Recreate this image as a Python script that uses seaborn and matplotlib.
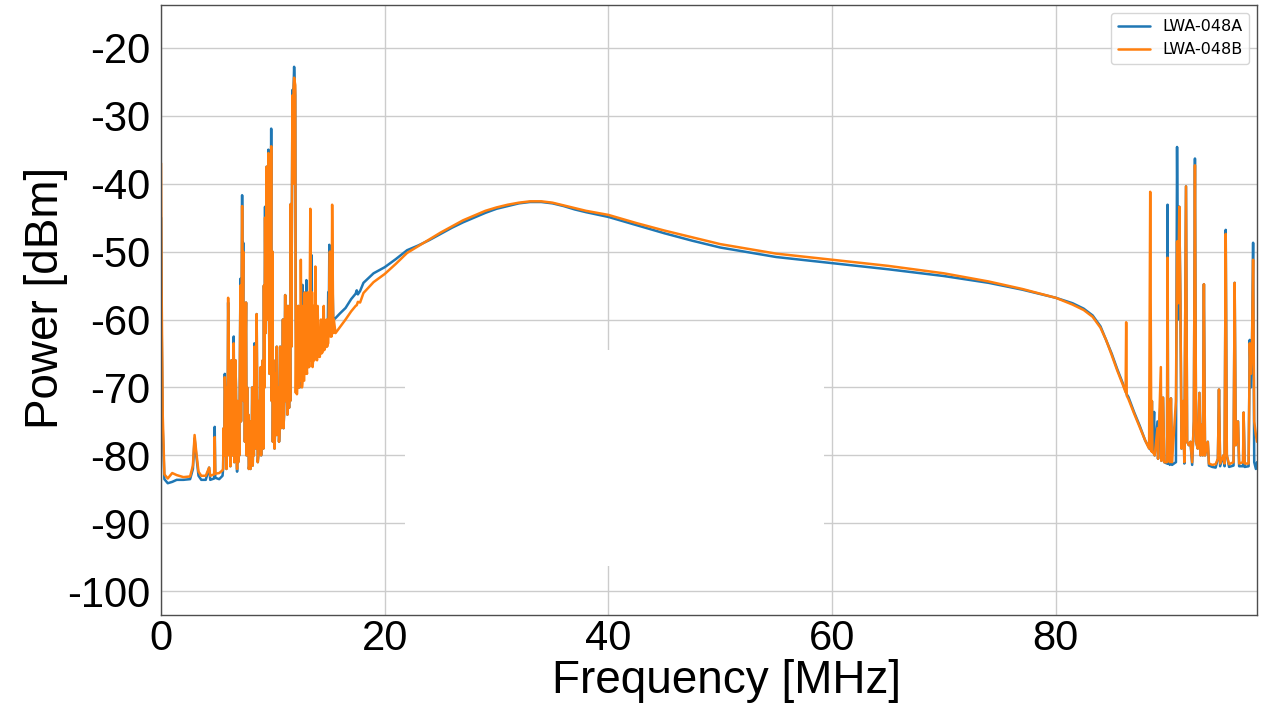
import numpy as np
import pandas as pd
import matplotlib
matplotlib.use("Agg")
import matplotlib.pyplot as plt
from matplotlib.patches import Rectangle
import seaborn as sns

# low band (0-21 MHz): RFI spikes on top of the analog filter skirt
low_freq = [0.00, 0.05, 0.15, 0.30, 0.60, 1.00, 1.40, 2.00, 2.60, 2.85,
            3.00, 3.15, 3.35, 3.60, 4.00, 4.30, 4.40, 4.75, 4.80, 4.85,
            5.20, 5.50, 5.55, 5.60, 5.65, 5.70, 5.75, 5.80, 5.85, 5.90,
            5.95, 6.00, 6.05, 6.10, 6.15, 6.20, 6.25, 6.30, 6.35, 6.40,
            6.45, 6.50, 6.55, 6.60, 6.65, 6.70, 6.75, 6.80, 6.85, 6.90,
            6.95, 7.00, 7.05, 7.10, 7.15, 7.20, 7.25, 7.30, 7.35, 7.40,
            7.45, 7.50, 7.55, 7.60, 7.65, 7.70, 7.75, 7.80, 7.85, 7.90,
            7.95, 8.00, 8.05, 8.10, 8.15, 8.20, 8.25, 8.30, 8.35, 8.40,
            8.45, 8.50, 8.55, 8.60, 8.65, 8.70, 8.75, 8.80, 8.85, 8.90,
            8.95, 9.00, 9.05, 9.10, 9.15, 9.20, 9.25, 9.30, 9.35, 9.40,
            9.45, 9.50, 9.55, 9.60, 9.65, 9.70, 9.75, 9.80, 9.85, 9.90,
            9.95, 10.00, 10.05, 10.10, 10.15, 10.20, 10.25, 10.30, 10.35, 10.40,
            10.45, 10.50, 10.55, 10.60, 10.65, 10.70, 10.75, 10.80, 10.85, 10.90,
            10.95, 11.00, 11.05, 11.10, 11.15, 11.20, 11.25, 11.30, 11.35, 11.40,
            11.45, 11.50, 11.55, 11.60, 11.65, 11.70, 11.75, 11.80, 11.85, 11.90,
            12.00, 12.05, 12.10, 12.15, 12.20, 12.25, 12.30, 12.35, 12.40, 12.45,
            12.50, 12.55, 12.60, 12.65, 12.70, 12.75, 12.80, 12.85, 12.90, 12.95,
            13.00, 13.05, 13.10, 13.15, 13.20, 13.25, 13.30, 13.35, 13.40, 13.45,
            13.50, 13.55, 13.60, 13.65, 13.70, 13.75, 13.80, 13.85, 13.90, 13.95,
            14.00, 14.10, 14.20, 14.30, 14.35, 14.45, 14.55, 14.60, 14.70, 14.80,
            14.85, 14.90, 14.95, 15.00, 15.05, 15.10, 15.15, 15.20, 15.25, 15.30,
            15.35, 15.40, 15.45, 15.60, 16.00, 16.50, 17.00, 17.40, 17.50, 17.60,
            17.80, 18.10, 19.00, 20.00, 21.00]
low_a = [-45.0, -60.0, -76.0, -83.5, -84.1, -83.9, -83.6, -83.6, -83.5, -82.0,
         -77.5, -80.0, -83.0, -83.6, -83.6, -81.8, -83.6, -83.4, -75.8, -83.3,
         -83.5, -83.0, -82.0, -76.0, -80.0, -68.0, -71.0, -78.0, -82.0, -70.0,
         -78.0, -57.5, -66.0, -80.0, -70.0, -81.6, -78.0, -66.0, -72.0, -80.0,
         -70.0, -62.5, -81.0, -75.0, -66.0, -69.8, -78.0, -82.4, -72.0, -81.0,
         -76.0, -80.0, -66.0, -54.0, -75.0, -60.0, -41.7, -58.0, -48.7, -72.0,
         -64.0, -78.0, -66.0, -57.5, -80.0, -70.0, -78.0, -74.0, -82.0, -81.5,
         -76.0, -82.0, -75.0, -80.0, -70.0, -81.5, -76.0, -80.0, -63.5, -78.0,
         -68.0, -79.0, -59.2, -72.0, -81.0, -80.0, -72.0, -79.0, -74.0, -67.2,
         -80.0, -70.0, -78.0, -66.0, -79.0, -55.0, -70.0, -43.4, -62.0, -52.0,
         -37.5, -60.0, -48.0, -35.0, -58.0, -68.0, -40.0, -55.0, -31.9, -72.0,
         -50.0, -78.0, -66.0, -70.0, -79.0, -76.0, -68.0, -77.0, -64.0, -73.4,
         -77.0, -70.0, -78.0, -76.0, -64.0, -76.0, -72.0, -67.0, -75.0, -60.0,
         -76.0, -74.0, -66.0, -56.4, -72.0, -62.0, -70.0, -74.0, -58.0, -70.3,
         -73.0, -60.0, -72.0, -43.0, -64.0, -45.0, -26.2, -40.0, -26.0, -22.8,
         -27.0, -60.0, -70.0, -62.0, -60.0, -68.0, -58.0, -66.0, -70.0, -62.0,
         -64.0, -69.0, -60.0, -54.9, -68.0, -62.0, -66.0, -68.0, -58.0, -66.0,
         -54.2, -66.0, -58.0, -65.0, -67.0, -58.0, -66.0, -66.0, -60.0, -50.5,
         -66.0, -60.0, -63.0, -65.0, -58.0, -64.0, -64.0, -63.0, -62.0, -64.5,
         -64.5, -63.0, -63.7, -62.5, -63.5, -63.0, -62.5, -63.0, -62.7, -61.0,
         -62.5, -62.0, -56.0, -60.0, -49.0, -61.0, -54.0, -58.0, -60.0, -58.0,
         -56.0, -60.0, -60.0, -59.8, -59.1, -58.3, -57.0, -56.2, -55.7, -56.3,
         -55.8, -54.6, -53.2, -52.3, -51.1]
low_b = [-37.0, -55.0, -74.0, -82.8, -83.4, -82.6, -82.9, -83.2, -83.1, -81.5,
         -77.0, -79.5, -82.4, -83.0, -83.0, -81.8, -83.0, -82.8, -77.3, -82.7,
         -82.6, -82.2, -82.0, -76.0, -80.0, -68.5, -71.0, -78.0, -82.0, -70.0,
         -78.0, -56.8, -66.0, -80.0, -70.0, -81.6, -78.0, -66.0, -72.0, -80.0,
         -70.0, -63.5, -81.0, -74.0, -66.0, -70.0, -78.0, -82.0, -72.0, -81.0,
         -76.0, -80.0, -66.0, -55.0, -75.0, -60.0, -43.3, -58.0, -50.0, -72.0,
         -64.0, -78.0, -66.0, -57.5, -80.0, -70.0, -78.0, -74.0, -82.0, -81.3,
         -76.0, -82.0, -75.0, -80.0, -70.0, -81.5, -76.0, -80.0, -64.0, -78.0,
         -68.0, -79.0, -59.2, -72.0, -81.0, -80.0, -72.0, -79.0, -74.0, -67.0,
         -80.0, -70.0, -78.0, -66.0, -79.0, -55.0, -70.0, -45.0, -62.0, -52.0,
         -37.5, -60.0, -48.0, -35.5, -58.0, -68.0, -38.0, -55.0, -34.5, -72.0,
         -50.0, -78.0, -66.0, -70.0, -79.0, -76.0, -68.0, -77.0, -64.0, -73.4,
         -77.0, -70.0, -78.0, -76.0, -64.0, -76.0, -72.0, -67.0, -75.0, -60.0,
         -76.0, -74.0, -66.0, -56.4, -72.0, -62.0, -70.0, -74.0, -58.0, -70.3,
         -73.0, -60.0, -72.0, -43.0, -64.0, -45.0, -27.0, -40.0, -26.0, -24.4,
         -25.5, -70.8, -62.0, -71.0, -68.0, -58.0, -70.0, -70.0, -60.0, -69.0,
         -51.2, -62.0, -70.0, -69.0, -58.0, -69.0, -69.0, -56.0, -68.0, -60.0,
         -67.0, -68.0, -56.0, -67.0, -62.0, -67.0, -55.0, -43.7, -66.0, -60.0,
         -56.0, -67.0, -66.0, -58.0, -66.0, -60.0, -52.2, -60.0, -65.5, -66.0,
         -58.0, -65.5, -65.5, -60.0, -65.0, -64.8, -58.0, -64.5, -64.0, -60.0,
         -64.0, -63.5, -63.5, -58.0, -55.0, -50.0, -62.5, -60.0, -62.5, -43.1,
         -52.0, -62.0, -60.0, -62.0, -61.1, -60.0, -58.8, -58.0, -57.9, -57.4,
         -57.5, -56.1, -54.5, -53.3, -51.8]

# passband (22-85.5 MHz)
mid_freq = [22, 23, 24, 25, 26, 27, 28, 29, 30, 31, 32, 33, 34, 35, 36, 37, 38, 40, 42.5, 45,
            47.5, 50, 55, 60, 65, 70, 74, 77, 80, 81.5, 82.5, 83.3, 84.0, 84.5, 85.0, 85.5]
mid_a = [-49.8, -49.1, -48.3, -47.4, -46.5, -45.7, -45.0, -44.3, -43.7, -43.3, -42.9, -42.7,
         -42.7, -42.9, -43.3, -43.8, -44.2, -44.9, -46.1, -47.3, -48.4, -49.4, -50.8, -51.7,
         -52.6, -53.6, -54.6, -55.6, -56.8, -57.6, -58.4, -59.4, -61.0, -63.0, -65.0, -67.3]
mid_b = [-50.2, -49.2, -48.2, -47.2, -46.3, -45.4, -44.7, -44.0, -43.5, -43.1, -42.8, -42.6,
         -42.6, -42.8, -43.2, -43.6, -44.0, -44.6, -45.8, -46.9, -47.9, -48.9, -50.3, -51.2,
         -52.1, -53.2, -54.4, -55.5, -56.8, -57.8, -58.6, -59.6, -61.2, -63.0, -65.2, -67.5]

# high band (86-98 MHz): roll-off and FM band spikes
high_freq = [86.00, 86.25, 86.30, 86.35, 86.50, 87.00, 87.50, 88.00, 88.35, 88.45, 88.55, 88.60,
             88.65, 88.80, 88.85, 89.10, 89.15, 89.40, 89.45, 89.60, 89.70, 89.95, 90.00, 90.05,
             90.15, 90.20, 90.30, 90.40, 90.75, 90.85, 90.95, 91.05, 91.15, 91.25, 91.40, 91.50,
             91.65, 91.75, 91.90, 92.05, 92.20, 92.35, 92.45, 92.55, 92.70, 92.85, 92.95, 93.05,
             93.15, 93.25, 93.35, 93.60, 93.70, 94.00, 94.30, 94.50, 94.60, 94.70, 95.00, 95.10,
             95.20, 95.30, 95.50, 95.90, 96.00, 96.10, 96.30, 96.40, 96.75, 96.80, 96.90, 97.25,
             97.35, 97.45, 97.55, 97.65, 97.75, 97.90, 98.00]
high_a = [-69.4, -70.5, -70.8, -71.0, -71.4, -73.6, -75.6, -77.8, -78.9, -79.1, -79.3, -72.0,
          -79.5, -73.6, -80.0, -75.0, -80.5, -71.0, -80.8, -71.5, -81.0, -81.2, -43.1, -81.2,
          -72.3, -81.4, -71.6, -81.4, -81.0, -34.6, -60.0, -43.4, -57.6, -79.0, -72.0, -81.2,
          -40.4, -78.0, -78.5, -78.0, -81.4, -75.0, -36.3, -78.0, -79.0, -70.8, -80.0, -75.5,
          -80.0, -54.8, -80.0, -78.0, -81.5, -81.7, -81.8, -80.5, -70.3, -81.6, -80.0, -81.6,
          -46.8, -80.0, -81.7, -81.5, -54.6, -78.5, -75.0, -81.6, -81.6, -73.7, -81.7, -81.6,
          -63.0, -70.0, -64.0, -48.7, -81.0, -82.0, -81.0]
high_b = [-69.6, -70.7, -60.4, -71.2, -71.7, -73.8, -75.8, -77.8, -79.0, -41.2, -79.4, -72.0,
          -79.5, -79.8, -80.0, -76.0, -80.5, -67.0, -80.8, -71.5, -81.0, -81.0, -50.9, -80.5,
          -72.3, -81.0, -71.6, -81.0, -72.0, -48.5, -57.6, -43.4, -57.6, -79.0, -72.0, -81.0,
          -40.4, -78.0, -78.5, -78.0, -81.0, -75.0, -37.3, -78.0, -79.0, -70.8, -80.0, -75.5,
          -80.0, -54.8, -80.0, -78.0, -81.2, -81.4, -81.3, -80.5, -70.3, -81.2, -80.0, -81.2,
          -47.4, -80.0, -81.3, -81.0, -54.6, -78.5, -75.0, -81.2, -81.0, -73.7, -81.2, -81.2,
          -63.5, -68.0, -64.0, -51.2, -75.0, -77.0, -78.0]

freq = np.concatenate([low_freq, mid_freq, high_freq])
df_a = pd.DataFrame({"freq": freq, "power": np.concatenate([low_a, mid_a, high_a])})
df_b = pd.DataFrame({"freq": freq, "power": np.concatenate([low_b, mid_b, high_b])})

sns.set_style("whitegrid", {"axes.edgecolor": ".3", "grid.color": ".8"})
plt.rcParams["font.family"] = ["Liberation Sans", "DejaVu Sans"]
plt.rcParams["axes.unicode_minus"] = False
plt.rcParams["text.color"] = "black"
plt.rcParams["axes.labelcolor"] = "black"
plt.rcParams["xtick.color"] = "black"
plt.rcParams["ytick.color"] = "black"

fig = plt.figure(figsize=(12.71, 7.12), dpi=100)
ax = fig.add_axes([0.1267, 0.1362, 0.8623, 0.8568])

sns.lineplot(data=df_a, x="freq", y="power", color="#1f77b4", linewidth=1.8,
             estimator=None, sort=False, label="LWA-048A", ax=ax)
sns.lineplot(data=df_b, x="freq", y="power", color="#ff7f0e", linewidth=1.8,
             estimator=None, sort=False, label="LWA-048B", ax=ax)

# blank patch over the grid, as in the source image
ax.add_patch(Rectangle((21.8, -96.3), 37.5, 31.8, facecolor="white",
                       edgecolor="none", zorder=1))

ax.set_xlim(0, 98)
ax.set_ylim(-103.5, -13.7)
ax.set_xticks([0, 20, 40, 60, 80])
ax.set_yticks(np.arange(-100, -19, 10))
ax.grid(True, linewidth=1.0)
for s in ax.spines.values():
    s.set_linewidth(1.0)

ax.tick_params(axis="both", labelsize=30, length=0)
ax.tick_params(axis="y", pad=8)
ax.tick_params(axis="x", pad=3)
ax.set_xlabel("Frequency [MHz]", fontsize=33)
ax.set_ylabel("Power [dBm]", fontsize=33)
ax.xaxis.set_label_coords(0.516, -0.072)
ax.yaxis.set_label_coords(-0.085, 0.52)

ax.legend(loc="upper right", prop={"family": "DejaVu Sans", "size": 11.5})

fig.savefig("out.png", dpi=100)
